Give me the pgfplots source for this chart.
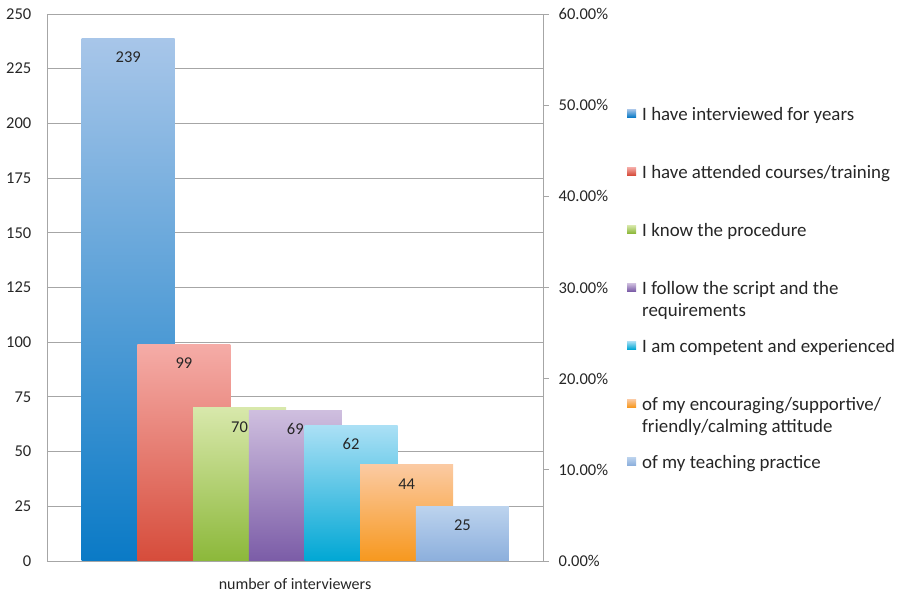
\documentclass[border=0pt]{standalone}
\usepackage{fontspec}
\setmainfont{Carlito}
\usepackage{pgfplots}
\pgfplotsset{compat=1.18}
\definecolor{gridc}{HTML}{A6A6A6}
\definecolor{txt}{HTML}{262626}
\definecolor{bAt}{HTML}{A8C6E9}\definecolor{bAb}{HTML}{0A7AC6}
\definecolor{bBt}{HTML}{F5ACA7}\definecolor{bBb}{HTML}{D64C3B}
\definecolor{bCt}{HTML}{D8E8AB}\definecolor{bCb}{HTML}{8CB83A}
\definecolor{bDt}{HTML}{CFBFDF}\definecolor{bDb}{HTML}{7B5CA7}
\definecolor{bEt}{HTML}{ABE0F5}\definecolor{bEb}{HTML}{00A7D4}
\definecolor{bFt}{HTML}{FBCAA2}\definecolor{bFb}{HTML}{F7981E}
\definecolor{bGt}{HTML}{BCD3EE}\definecolor{bGb}{HTML}{8CAFDC}
\newcommand{\lgtwo}[2]{\parbox[t]{260pt}{\baselineskip=22pt #1\\#2}}
\begin{document}
\fontsize{16.5}{19}\selectfont
\begin{tikzpicture}[x=1pt,y=1pt]
\path[use as bounding box] (-47,-32) rectangle (856,561);
\begin{axis}[
  at={(0pt,0pt)}, anchor=south west,
  scale only axis, width=496pt, height=547pt,
  xmin=47, xmax=543, ymin=0, ymax=250,
  axis line style={gridc, line width=0.9pt},
  xtick=\empty,
  ytick={0,25,...,250},
  ymajorgrids, grid style={gridc, line width=0.9pt},
  major tick length=0pt,
  /pgf/number format/assume math mode=true,
  tick label style={font=\fontsize{16.5}{19}\selectfont, text=txt},
  yticklabel style={xshift=-10pt},
  xlabel={number of interviewers},
  xlabel style={font=\fontsize{16}{19}\selectfont, text=txt, yshift=-12pt},
  nodes near coords,
  nodes near coords style={anchor=center, yshift=-19pt, font=\fontsize{16.5}{19}\selectfont, text=txt},
  legend cell align=left,
  legend style={at={(axis description cs:1.1694,0.830)}, anchor=north west,
    draw=none, fill=none, inner sep=0pt, row sep=16pt, column sep=6pt,
    nodes={inner sep=0pt, text height=13pt, text depth=29pt},
    font=\fontsize{18.9}{22}\selectfont, text=txt},
  legend image code/.code={\fill[#1] (0pt,11pt) rectangle (9pt,19pt);},
  every axis plot/.append style={ybar, bar width=93, bar shift=0pt, draw=none},
]
\addplot[top color=bAt, bottom color=bAb] coordinates {(128.2,239)};
\addlegendentry{I have interviewed for years}
\addplot[top color=bBt, bottom color=bBb] coordinates {(183.9,99)};
\addlegendentry{I have attended courses/training}
\addplot[top color=bCt, bottom color=bCb] coordinates {(239.6,70)};
\addlegendentry{I know the procedure}
\addplot[top color=bDt, bottom color=bDb] coordinates {(295.3,69)};
\addlegendentry{\lgtwo{I follow the script and the}{requirements}}
\addplot[top color=bEt, bottom color=bEb] coordinates {(351.0,62)};
\addlegendentry{I am competent and experienced}
\addplot[top color=bFt, bottom color=bFb] coordinates {(406.7,44)};
\addlegendentry{\lgtwo{of my encouraging/supportive/}{friendly/calming attitude}}
\addplot[top color=bGt, bottom color=bGb] coordinates {(462.4,25)};
\addlegendentry{of my teaching practice}
\end{axis}
\begin{axis}[
  at={(0pt,0pt)}, anchor=south west,
  scale only axis, width=496pt, height=547pt,
  xmin=0, xmax=1, ymin=0, ymax=60,
  axis x line=none,
  axis y line*=right,
  axis line style={gridc, line width=0.9pt, -},
  ytick={0,10,...,60},
  yticklabels={0.00\%,10.00\%,20.00\%,30.00\%,40.00\%,50.00\%,60.00\%},
  tick align=outside, major tick length=6pt,
  tick style={gridc, line width=0.9pt},
  tick label style={font=\fontsize{16.5}{19}\selectfont, text=txt},
  yticklabel style={xshift=4pt},
]
\end{axis}
\end{tikzpicture}
\end{document}
